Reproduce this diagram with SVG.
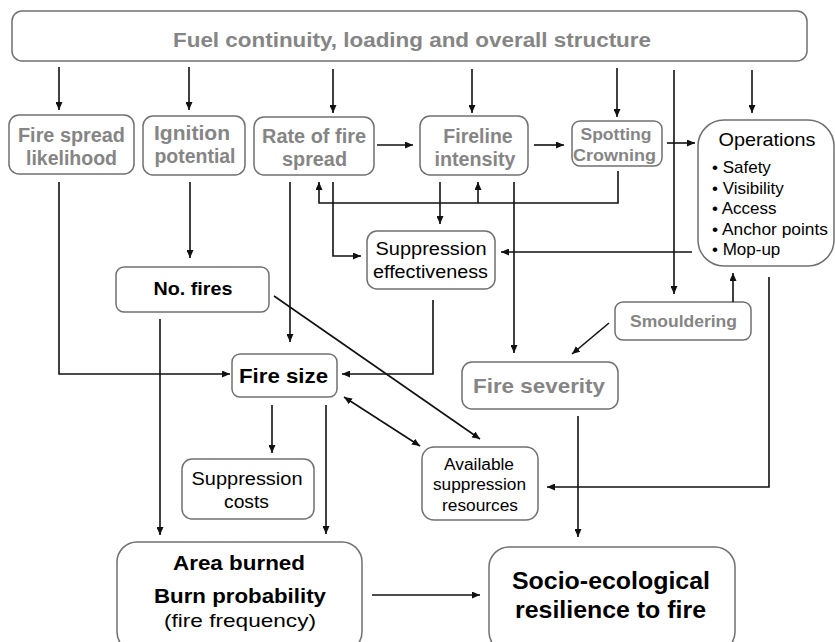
<svg xmlns="http://www.w3.org/2000/svg" width="835" height="642" viewBox="0 0 835 642">
<defs>
<marker id="ah" viewBox="0 0 8 7" refX="8" refY="3.5" markerWidth="8" markerHeight="7" markerUnits="userSpaceOnUse" orient="auto-start-reverse">
<path d="M0,0 L8,3.5 L0,7 z" fill="#111"/>
</marker>
<style>
.box{fill:#fff;stroke:#707070;stroke-width:1.5}
text{font-family:"Liberation Sans",Arial,sans-serif;text-anchor:middle}
.g{fill:#858585;font-weight:bold}
.b{fill:#000;font-weight:bold}
.n{fill:#000}
.l{text-anchor:start}
.c{fill:none;stroke:#111;stroke-width:1.6}
.a{marker-end:url(#ah)}
</style>
</defs>
<rect width="835" height="642" fill="#fff"/>

<g id="fuel"><rect class="box" x="12" y="11" width="795" height="50" rx="10"/>
<text class="g" x="412" y="47" font-size="20" textLength="478" lengthAdjust="spacingAndGlyphs">Fuel continuity, loading and overall structure</text></g>

<g id="spread-likelihood"><rect class="box" x="9" y="115" width="125" height="59" rx="10"/>
<text class="g" font-size="19.5"><tspan x="71.5" y="142" textLength="107" lengthAdjust="spacingAndGlyphs">Fire spread</tspan><tspan x="71.5" y="165" textLength="91" lengthAdjust="spacingAndGlyphs">likelihood</tspan></text></g>

<g id="ignition"><rect class="box" x="143" y="116" width="102" height="59" rx="10"/>
<text class="g" font-size="19.5"><tspan x="192" y="140" textLength="76" lengthAdjust="spacingAndGlyphs">Ignition</tspan><tspan x="195" y="163" textLength="81" lengthAdjust="spacingAndGlyphs">potential</tspan></text></g>

<g id="rate"><rect class="box" x="254" y="117" width="120" height="58" rx="10"/>
<text class="g" font-size="19.5"><tspan x="314" y="143" textLength="104" lengthAdjust="spacingAndGlyphs">Rate of fire</tspan><tspan x="314.5" y="166" textLength="65" lengthAdjust="spacingAndGlyphs">spread</tspan></text></g>

<g id="fireline"><rect class="box" x="420" y="116" width="108" height="59" rx="10"/>
<text class="g" font-size="19.5"><tspan x="478" y="143">Fireline</tspan><tspan x="475" y="166" textLength="81" lengthAdjust="spacingAndGlyphs">intensity</tspan></text></g>

<g id="spotting"><rect class="box" x="572" y="121" width="90" height="45" rx="8"/>
<text class="g" font-size="16.5"><tspan x="616" y="140" textLength="71" lengthAdjust="spacingAndGlyphs">Spotting</tspan><tspan x="614.5" y="161" textLength="83" lengthAdjust="spacingAndGlyphs">Crowning</tspan></text></g>

<g id="operations"><rect class="box" x="698" y="120" width="136" height="146" rx="26"/>
<text class="n" x="767" y="146" font-size="19" textLength="97" lengthAdjust="spacingAndGlyphs">Operations</text>
<text class="n l" font-size="17"><tspan x="712" y="173">• Safety</tspan><tspan x="712" y="194">• Visibility</tspan><tspan x="712" y="214">• Access</tspan><tspan x="712" y="235" textLength="116" lengthAdjust="spacingAndGlyphs">• Anchor points</tspan><tspan x="712" y="255">• Mop-up</tspan></text></g>

<g id="suppression-effectiveness"><rect class="box" x="367" y="231" width="128" height="58" rx="10"/>
<text class="n" font-size="18"><tspan x="431" y="255" textLength="111" lengthAdjust="spacingAndGlyphs">Suppression</tspan><tspan x="430.5" y="278" textLength="115" lengthAdjust="spacingAndGlyphs">effectiveness</tspan></text></g>

<g id="no-fires"><rect class="box" x="116" y="267" width="153" height="45" rx="8"/>
<text class="b" x="193" y="295" font-size="18.5" textLength="79" lengthAdjust="spacingAndGlyphs">No. fires</text></g>

<g id="smouldering"><rect class="box" x="615" y="302" width="136" height="38" rx="8"/>
<text class="g" x="683.5" y="327" font-size="17" textLength="107" lengthAdjust="spacingAndGlyphs">Smouldering</text></g>

<g id="fire-size"><rect class="box" x="232" y="354" width="105" height="43" rx="8"/>
<text class="b" x="283.5" y="383" font-size="21" textLength="89" lengthAdjust="spacingAndGlyphs">Fire size</text></g>

<g id="fire-severity"><rect class="box" x="462" y="362" width="156" height="47" rx="10"/>
<text class="g" x="539" y="393" font-size="21" textLength="132" lengthAdjust="spacingAndGlyphs">Fire severity</text></g>

<g id="suppression-costs"><rect class="box" x="182" y="459" width="132" height="60" rx="10"/>
<text class="n" font-size="18"><tspan x="247" y="485" textLength="111" lengthAdjust="spacingAndGlyphs">Suppression</tspan><tspan x="246.5" y="508" textLength="45" lengthAdjust="spacingAndGlyphs">costs</tspan></text></g>

<g id="available-resources"><rect class="box" x="422" y="447" width="116" height="73" rx="12"/>
<text class="n" font-size="16"><tspan x="479" y="470" textLength="70" lengthAdjust="spacingAndGlyphs">Available</tspan><tspan x="479.5" y="490" textLength="93" lengthAdjust="spacingAndGlyphs">suppression</tspan><tspan x="480" y="511" textLength="76" lengthAdjust="spacingAndGlyphs">resources</tspan></text></g>

<g id="area-burned"><rect class="box" x="117" y="542" width="245" height="110" rx="20"/>
<text class="b" font-size="20"><tspan x="239" y="570" textLength="132" lengthAdjust="spacingAndGlyphs">Area burned</tspan><tspan x="240" y="603" textLength="172" lengthAdjust="spacingAndGlyphs">Burn probability</tspan></text>
<text class="n" x="240" y="627" font-size="19" textLength="152" lengthAdjust="spacingAndGlyphs">(fire frequency)</text></g>

<g id="resilience"><rect class="box" x="489" y="547" width="246" height="105" rx="20"/>
<text class="b" font-size="23.5"><tspan x="611" y="589" textLength="198" lengthAdjust="spacingAndGlyphs">Socio-ecological</tspan><tspan x="610.5" y="618" textLength="191" lengthAdjust="spacingAndGlyphs">resilience to fire</tspan></text></g>

<g id="connectors">
<path class="c a" d="M59,67 V110"/>
<path class="c a" d="M189,67 V110"/>
<path class="c a" d="M333,69 V113"/>
<path class="c a" d="M472,69 V113"/>
<path class="c a" d="M617,68 V117"/>
<path class="c a" d="M674,70 V294"/>
<path class="c a" d="M752,70 V113"/>
<path class="c a" d="M377,145 H413"/>
<path class="c a" d="M534,145 H564"/>
<path class="c a" d="M667,143 H695"/>
<path class="c a" d="M59,182 V374 H230"/>
<path class="c a" d="M190,182 V258"/>
<path class="c a" d="M290,182 V342"/>
<path class="c a" d="M618,171 V203 H319 V182"/>
<path class="c a" d="M478,203 V182"/>
<path class="c a" d="M333,182 V256 H361"/>
<path class="c a" d="M440,182 V224"/>
<path class="c a" d="M514,182 V353"/>
<path class="c a" d="M692,252 H501"/>
<path class="c a" d="M733,302 V273"/>
<path class="c a" d="M609,323 L572,354"/>
<path class="c a" d="M769,277 V487 H547"/>
<path class="c a" d="M433,300 V374 H342"/>
<path class="c a" d="M160,319 V535"/>
<path class="c a" d="M274,296 L480,439"/>
<path class="c a" d="M344,397 L420,446" marker-start="url(#ah)"/>
<path class="c a" d="M272,405 V453"/>
<path class="c a" d="M326,405 V534"/>
<path class="c a" d="M578,416 V537"/>
<path class="c a" d="M372,595 H480"/>
</g>
</svg>
